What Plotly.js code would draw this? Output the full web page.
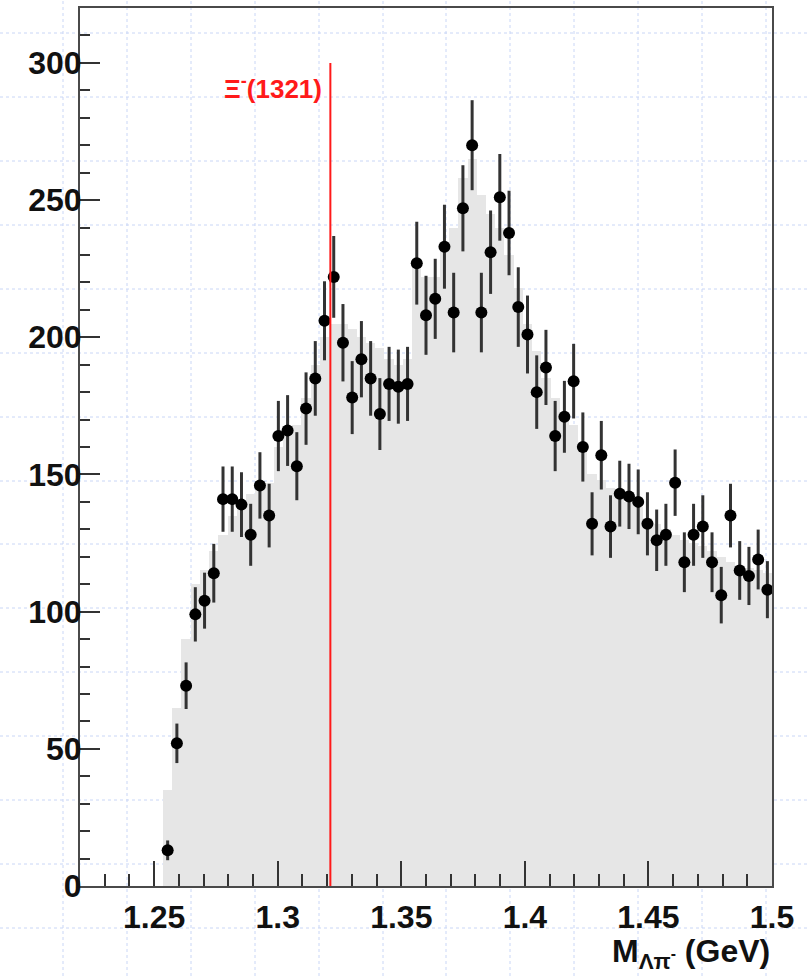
<!DOCTYPE html>
<html>
<head>
<meta charset="utf-8">
<script src="https://cdn.plot.ly/plotly-3.0.1.min.js"></script>
<style>
  html, body { margin: 0; padding: 0; background: #ffffff; }
  #chart { width: 810px; height: 976px; }
</style>
</head>
<body>
<div id="chart"></div>
<script>
// Histogram definition: 75 bins over [1.22, 1.50] GeV
const histMin = 1.22;
const histMax = 1.50;
const nBins = 75;
const firstFilledBin = 9;

// Event counts per bin (data points)
const counts = [13, 52, 73, 99, 104, 114, 141, 141, 139, 128,
  146, 135, 164, 166, 153, 174, 185, 206, 222, 198,
  178, 192, 185, 172, 183, 182, 183, 227, 208, 214,
  233, 209, 247, 270, 209, 231, 251, 238, 211, 201,
  180, 189, 164, 171, 184, 160, 132, 157, 131, 143,
  142, 140, 132, 126, 128, 147, 118, 128, 131, 118,
  106, 135, 115, 113, 119, 108];

// Statistical errors of the points
const errors = [3.6, 7.2, 8.5, 9.9, 10.2, 10.7, 11.9, 11.9, 11.8, 11.3,
  12.1, 11.6, 12.8, 12.9, 12.4, 13.2, 13.6, 14.4, 14.9, 14.1,
  13.3, 13.9, 13.6, 13.1, 13.5, 13.5, 13.5, 15.1, 14.4, 14.6,
  15.3, 14.5, 15.7, 16.4, 14.5, 15.2, 15.8, 15.4, 14.5, 14.2,
  13.4, 13.7, 12.8, 13.1, 13.6, 12.6, 11.5, 12.5, 11.4, 12.0,
  11.9, 11.8, 11.5, 11.2, 11.3, 12.1, 10.9, 11.3, 11.4, 10.9,
  10.3, 11.6, 10.7, 10.6, 10.9, 10.4];

// Filled (grey) reference histogram
const fillCounts = [35, 65, 90, 110, 115, 122, 128, 135, 140, 143,
  146, 147, 160, 165, 168, 178, 190, 200, 205, 205,
  203, 200, 198, 196, 192, 190, 192, 228, 222, 222,
  232, 240, 258, 265, 252, 245, 240, 230, 218, 205,
  195, 185, 178, 172, 168, 160, 150, 148, 145, 142,
  140, 138, 134, 132, 130, 128, 126, 125, 124, 122,
  120, 118, 117, 116, 115, 114];

const xTickVals = [1.25, 1.3, 1.35, 1.4, 1.45, 1.5];
const xTickText = ['1.25', '1.3', '1.35', '1.4', '1.45', '1.5'];
const yTickVals = [0, 50, 100, 150, 200, 250, 300];
const yTickText = ['0', '50', '100', '150', '200', '250', '300'];

const xiMass = 1.3213;
const xiLabel = 'Ξ<sup>-</sup>(1321)';
const xiLineTop = 300;
const xTitle = 'M<sub>Λπ<sup>-</sup></sub> (GeV)';

const binWidth = (histMax - histMin) / nBins;
const centers = counts.map((_, i) => histMin + (firstFilledBin + i + 0.5) * binWidth);

// page layout in pixels
const W = 810, H = 976;
const M = { l: 80, r: 38, t: 8, b: 90 };
const PW = W - M.l - M.r, PH = H - M.t - M.b;
const px2x = p => (p - M.l) / PW;
const py2y = p => (H - M.b - p) / PH;

// background page grid (blue dashed, not tied to the axes)
const gridX = [63, 127, 191, 255, 319, 383, 446, 510, 574, 638, 702, 766];
const gridY = [33, 97, 161, 225, 289, 353, 417, 481, 544, 608, 672, 736, 800, 864, 928];
const gridStyle = { color: '#c9d6f6', width: 1, dash: '3px,3px' };
const shapes = [];
gridX.forEach(p => shapes.push({ type: 'line', xref: 'paper', yref: 'paper', layer: 'below',
  x0: px2x(p), x1: px2x(p), y0: py2y(H), y1: py2y(0), line: gridStyle }));
gridY.forEach(p => shapes.push({ type: 'line', xref: 'paper', yref: 'paper', layer: 'below',
  x0: px2x(0), x1: px2x(W), y0: py2y(p), y1: py2y(p), line: gridStyle }));
shapes.push({ type: 'line', xref: 'x', yref: 'y', layer: 'above',
  x0: xiMass, x1: xiMass, y0: 0, y1: xiLineTop, line: { color: '#ff1a1a', width: 2 } });

const fam = '"Liberation Sans", Arial, Helvetica, sans-serif';
const tickFont = { family: fam, size: 32, color: '#111', weight: 'bold' };

const traces = [
  { type: 'bar', x: centers, y: fillCounts, width: binWidth, marker: { color: '#e6e6e6', line: { width: 0 } },
    hoverinfo: 'skip', showlegend: false },
  { type: 'scatter', mode: 'markers', x: centers, y: counts,
    marker: { color: '#000', size: 12 },
    error_y: { type: 'data', array: errors, visible: true, thickness: 3, width: 0, color: '#333' },
    showlegend: false }
];

const layout = {
  width: W, height: H,
  margin: M,
  paper_bgcolor: '#ffffff',
  plot_bgcolor: 'rgba(0,0,0,0)',
  bargap: 0,
  showlegend: false,
  font: tickFont,
  xaxis: {
    range: [histMin, histMax], showgrid: false, zeroline: false,
    showline: true, mirror: true, linecolor: '#4a4a4a', linewidth: 2,
    ticks: 'inside', ticklen: 25, tickwidth: 2, tickcolor: '#333',
    tickmode: 'array', tickvals: xTickVals, ticktext: xTickText,
    tickfont: tickFont, ticklabelstandoff: 2,
    minor: { tickmode: 'linear', tick0: histMin, dtick: 0.01, ticks: 'inside', ticklen: 12, tickwidth: 2, tickcolor: '#333', showgrid: false }
  },
  yaxis: {
    range: [0, 320], showgrid: false, zeroline: false,
    showline: true, mirror: true, linecolor: '#4a4a4a', linewidth: 2,
    ticks: 'inside', ticklen: 20, tickwidth: 2, tickcolor: '#333',
    tickmode: 'array', tickvals: yTickVals, ticktext: yTickText,
    tickfont: tickFont, ticklabelstandoff: -10,
    minor: { tickmode: 'linear', tick0: 0, dtick: 10, ticks: 'inside', ticklen: 10, tickwidth: 2, tickcolor: '#333', showgrid: false }
  },
  shapes: shapes,
  annotations: [
    { xref: 'x', yref: 'y', x: xiMass, y: 291, text: xiLabel, showarrow: false,
      xanchor: 'right', yanchor: 'middle', xshift: -6,
      font: { family: fam, size: 26, color: '#ff1a1a', weight: 'bold' } },
    { xref: 'paper', yref: 'paper', x: 1, y: py2y(954), text: xTitle, showarrow: false,
      xanchor: 'right', yanchor: 'middle',
      font: { family: fam, size: 32, color: '#111', weight: 'bold' } }
  ]
};

Plotly.newPlot('chart', traces, layout, { displayModeBar: false, staticPlot: true });
</script>
</body>
</html>
